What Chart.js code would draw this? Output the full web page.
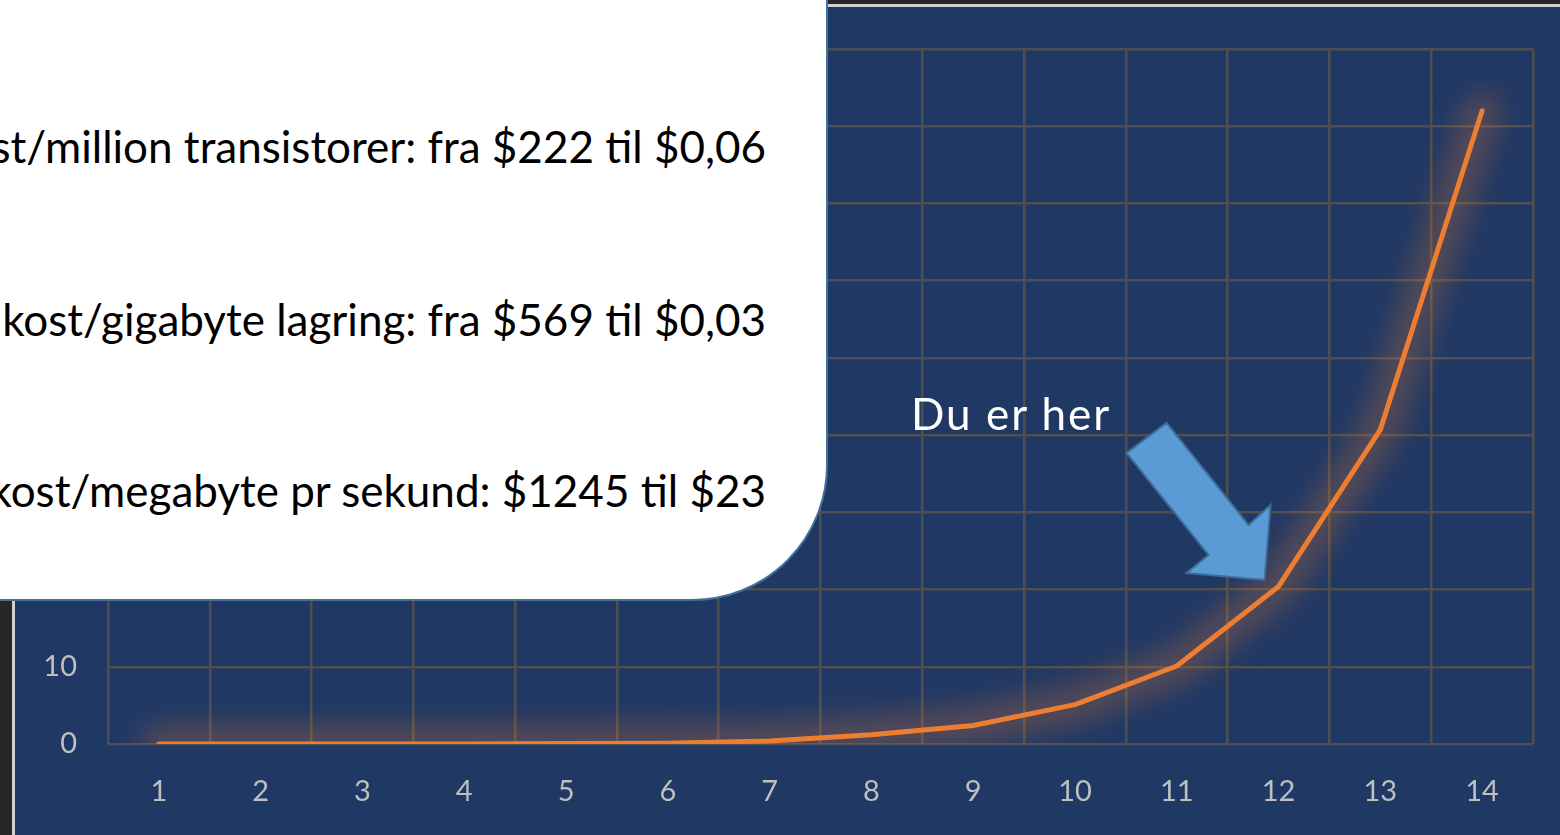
<!DOCTYPE html>
<html>
<head>
<meta charset="utf-8">
<script src="https://cdn.jsdelivr.net/npm/chart.js@4/dist/chart.umd.min.js"></script>
<style>
  html, body { margin: 0; padding: 0; width: 1560px; height: 835px; overflow: hidden; background: #262626; font-family: Lato, sans-serif; }
  #panel { position: absolute; left: 12px; top: 4px; width: 1548px; height: 831px; box-sizing: border-box;
           background: #203864; border-left: 3px solid #d0d0d0; border-top: 3px solid #d0d0d0; }
  #wrap { position: absolute; left: 0; top: 0; width: 1560px; height: 835px; }
  #callout { position: absolute; left: -10px; top: -10px; width: 838px; height: 611px; box-sizing: border-box;
             background: #fff; border: 2px solid #41719c; border-bottom-right-radius: 136px; }
  .linje { position: absolute; right: 794px; white-space: nowrap; font-size: 44px; line-height: 1.2; color: #000; }
  #herTekst { position: absolute; left: 911px; top: 387px; font-size: 44px; line-height: 1.2; letter-spacing: 2px; color: #fff; white-space: nowrap; }
</style>
</head>
<body>
<div id="panel"></div>
<div id="wrap"><canvas id="vekstChart" width="1560" height="835"></canvas></div>
<div id="callout"></div>
<div class="linje" style="top:120px">st/million transistorer: fra $222 til $0,06</div>
<div class="linje" style="top:293px">kost/gigabyte lagring: fra $569 til $0,03</div>
<div class="linje" style="top:464px">kost/megabyte pr sekund: $1245 til $23</div>
<div id="herTekst">Du er her</div>

<script>
const kategorier = ['1', '2', '3', '4', '5', '6', '7', '8', '9', '10', '11', '12', '13', '14'];
const verdier = [0, 0, 0, 0, 0.05, 0.1, 0.4, 1.2, 2.4, 5.1, 10.1, 20.4, 40.7, 82];
const yMin = 0;
const yMaks = 90;
const ySteg = 10;

// myk gloed rundt linja, tegnet gjennom punktene chart.js har plassert
const gloedPlugin = {
    id: 'gloed',
    beforeDatasetDraw(chart) {
        const ctx = chart.ctx;
        const a = chart.chartArea;
        const punkter = chart.getDatasetMeta(0).data;
        ctx.save();
        ctx.beginPath();
        ctx.rect(a.left, 0, a.right - a.left, a.bottom);
        ctx.clip();
        ctx.filter = 'blur(14px)';
        ctx.strokeStyle = 'rgba(237, 125, 49, 0.27)';
        ctx.lineWidth = 38;
        ctx.lineJoin = 'round';
        ctx.lineCap = 'round';
        ctx.beginPath();
        punkter.forEach((p, i) => {
            if (i === 0) ctx.moveTo(p.x, p.y);
            else ctx.lineTo(p.x, p.y);
        });
        ctx.stroke();
        ctx.restore();
    }
};

// pila som peker paa punkt 12
const pilPlugin = {
    id: 'pil',
    afterDatasetsDraw(chart) {
        const p = chart.getDatasetMeta(0).data[11];
        const ctx = chart.ctx;
        const form = [[-112, -163.5], [-30, -61.5], [-8, -81.5], [-14, -6.5], [-92, -13.5], [-70, -31.5], [-152, -133.5]];
        ctx.save();
        ctx.beginPath();
        form.forEach((f, i) => {
            if (i === 0) ctx.moveTo(p.x + f[0], p.y + f[1]);
            else ctx.lineTo(p.x + f[0], p.y + f[1]);
        });
        ctx.closePath();
        ctx.fillStyle = '#5b9bd5';
        ctx.fill();
        ctx.strokeStyle = '#3d6e9c';
        ctx.lineWidth = 2;
        ctx.stroke();
        ctx.restore();
    }
};

new Chart(document.getElementById('vekstChart'), {
    type: 'line',
    data: {
        labels: kategorier,
        datasets: [{
            data: verdier,
            borderColor: '#ed7d31',
            borderWidth: 5,
            borderCapStyle: 'round',
            borderJoinStyle: 'round',
            pointRadius: 0,
            tension: 0
        }]
    },
    options: {
        responsive: false,
        animation: false,
        layout: { padding: { top: 49, right: 27, left: 0, bottom: 0 } },
        plugins: {
            legend: { display: false },
            tooltip: { enabled: false }
        },
        scales: {
            x: {
                offset: true,
                grid: { offset: true, color: '#4f4f4f', lineWidth: 2.5, drawTicks: false },
                border: { display: false },
                ticks: { color: '#bfbfbf', font: { family: 'Lato', size: 29 }, padding: 30, maxRotation: 0 },
                afterFit(scale) { scale.height = 91; }
            },
            y: {
                min: yMin,
                max: yMaks,
                grid: { color: '#4f4f4f', lineWidth: 2.5, drawTicks: false },
                border: { display: false },
                ticks: { stepSize: ySteg, color: '#bfbfbf', font: { family: 'Lato', size: 29 }, padding: 31 },
                afterFit(scale) { scale.width = 108; }
            }
        }
    },
    plugins: [gloedPlugin, pilPlugin]
});
</script>
</body>
</html>
